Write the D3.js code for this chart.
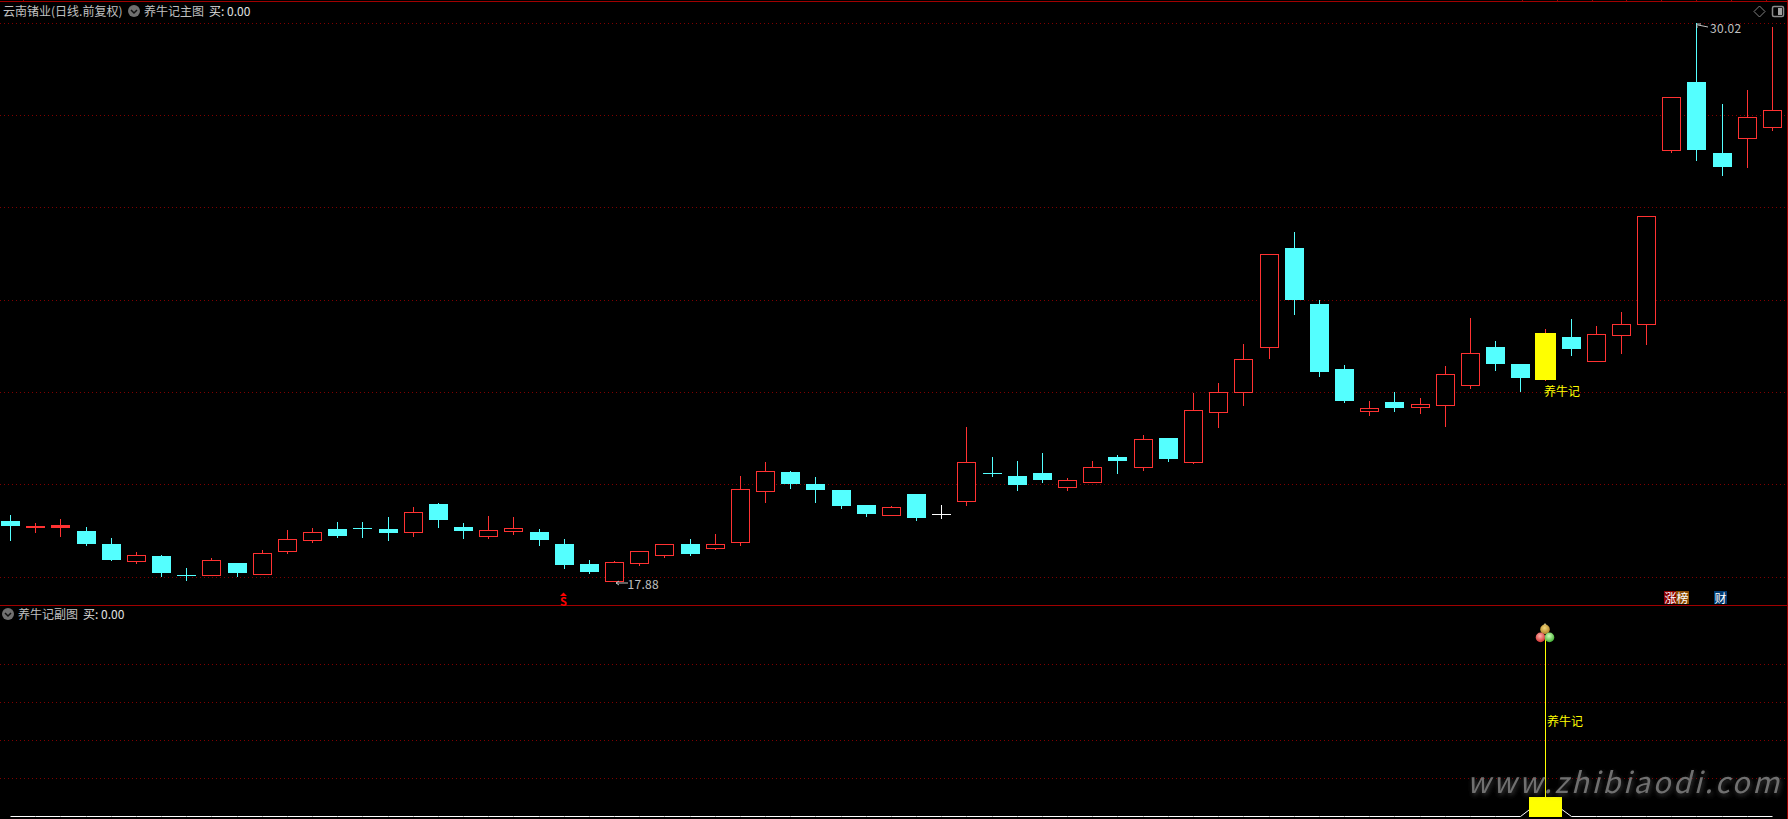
<!DOCTYPE html>
<html><head><meta charset="utf-8">
<script src="https://cdnjs.cloudflare.com/ajax/libs/d3/7.8.5/d3.min.js"></script>
<style>
html,body{margin:0;padding:0;background:#000;overflow:hidden}
svg{display:block}
text{font-family:"Noto Sans CJK SC","Liberation Sans",sans-serif}
</style></head><body><svg id="c" width="1788" height="819"></svg>
<script>
const stockTitle = "云南锗业(日线.前复权)";
const mainIndicator = "养牛记主图";
const subIndicator = "养牛记副图";
const buyLabel = "买: 0.00";
const signalLabel = "养牛记";
const watermark = "www.zhibiaodi.com";
const opens  = [19.18,19.04,19.06,18.96,18.68,18.30,18.42,18.01,18.01,18.27,18.03,18.53,18.77,19.01,19.03,19.01,18.93,19.55,19.05,18.86,18.97,18.94,18.68,18.24,17.88,18.27,18.45,18.68,18.60,18.73,19.84,20.25,19.99,19.86,19.53,19.32,19.77,19.33,19.62,20.23,20.16,20.23,19.93,20.02,20.58,20.36,20.99,20.47,21.56,21.98,22.96,25.13,23.91,22.49,21.58,21.77,21.67,21.71,22.15,22.97,22.60,22.25,23.19,22.67,23.24,23.48,27.25,28.74,27.20,27.53,27.77];
const closes = [19.08,19.07,19.09,18.68,18.33,18.44,18.05,17.99,18.33,18.05,18.48,18.78,18.94,18.85,19.01,18.92,19.37,19.20,18.96,18.98,19.02,18.77,18.22,18.07,18.28,18.52,18.67,18.46,18.67,19.87,20.26,19.99,19.86,19.51,19.33,19.48,19.25,19.33,20.46,20.21,19.97,20.07,20.07,20.35,20.49,20.96,20.53,21.59,21.98,22.70,24.99,23.99,22.43,21.79,21.64,21.64,21.72,22.38,22.85,22.60,22.30,23.28,22.93,23.25,23.46,25.82,28.41,27.26,26.89,27.99,28.13];
const highs  = [19.31,19.14,19.22,19.05,18.81,18.51,18.44,18.16,18.38,18.27,18.55,18.99,19.03,19.16,19.16,19.27,19.49,19.57,19.14,19.29,19.27,19.01,18.79,18.33,18.31,18.53,18.68,18.79,18.90,20.16,20.47,20.27,20.14,19.86,19.53,19.51,19.77,19.53,21.23,20.58,20.49,20.66,20.12,20.49,20.62,21.05,20.99,21.97,22.19,23.04,24.99,25.47,23.99,22.58,21.79,21.99,21.86,22.56,23.60,23.10,22.60,23.36,23.58,23.43,23.73,25.82,28.41,30.02,28.26,28.57,29.94];
const lows   = [18.77,18.93,18.86,18.66,18.33,18.27,17.98,17.90,18.01,17.98,18.03,18.49,18.73,18.83,18.83,18.77,18.86,19.05,18.81,18.81,18.90,18.66,18.16,18.05,17.88,18.22,18.40,18.44,18.57,18.66,19.60,19.90,19.60,19.46,19.29,19.32,19.20,19.25,19.53,20.16,19.86,20.03,19.86,20.02,20.23,20.29,20.49,20.44,21.23,21.71,22.73,23.69,22.34,21.77,21.49,21.58,21.53,21.25,22.08,22.47,22.01,22.25,22.80,22.67,22.84,23.04,27.22,27.04,26.72,26.89,27.70];
const gridPrices = [30.03,28.02,26.01,23.99,21.99,19.98,17.96];
const subGridValues = [2,4,6,8];
const signalIndex = 61;
const sellIndex = 22;
const signalBar = 1;
const signalStick = 9.35;
const maxIndex = 67, maxLabel = "30.02";
const minIndex = 24, minLabel = "17.88";
const topTicks = [23,1522,1557,1592,1626,1661,1696,1731,1766];
const badges = [{t:"涨",x0:1664,bg:"#8a0000"},{t:"榜",x0:1676,bg:"#8a4a00"},{t:"财",x0:1714,bg:"#003a70"}];

const RED="#ff3232", CYAN="#54ffff", YEL="#ffff00", GREY="#c0c0c0", LINE="#a00000", DOT="#800000";
const W=1788,H=819;
const svg=d3.select("#c");
const x=d3.scaleLinear().domain([0,70]).range([10,1771.9]);
const y=d3.scaleLinear().domain([30.02,17.88]).range([23.3,580.7]);
const ySub=d3.scaleLinear().domain([0,8]).range([816.5,663.7]);
const px=i=>Math.round(x(i));
const py=p=>Math.round(y(p));

svg.append("rect").attr("width",W).attr("height",H).attr("fill","#000");

// grid
const grid=svg.append("g").attr("shape-rendering","crispEdges");
grid.selectAll("line.m").data(gridPrices).join("line").attr("class","m")
  .attr("x1",0).attr("x2",W-2).attr("y1",d=>py(d)+.5).attr("y2",d=>py(d)+.5)
  .attr("stroke",DOT).attr("stroke-dasharray","1 3");
grid.selectAll("line.s").data(subGridValues).join("line").attr("class","s")
  .attr("x1",0).attr("x2",W-2).attr("y1",d=>Math.round(ySub(d))+.5).attr("y2",d=>Math.round(ySub(d))+.5)
  .attr("stroke",DOT).attr("stroke-dasharray","1 3");

// frame
const frame=svg.append("g").attr("shape-rendering","crispEdges").attr("stroke",LINE);
frame.append("line").attr("x1",0).attr("x2",W).attr("y1",1.5).attr("y2",1.5);
frame.append("line").attr("x1",0).attr("x2",W).attr("y1",605.5).attr("y2",605.5);
frame.append("line").attr("x1",W-.5).attr("x2",W-.5).attr("y1",0).attr("y2",H);
frame.selectAll("line.t").data(topTicks).join("line").attr("class","t")
  .attr("x1",d=>d+.5).attr("x2",d=>d+.5).attr("y1",0).attr("y2",1);

// candles
const candles=d3.range(opens.length).map(i=>({i,o:opens[i],c:closes[i],h:highs[i],l:lows[i]}));
const colorOf=d=>d.i===signalIndex?YEL:(d.o===d.c?"#ffffff":(d.c>d.o?RED:CYAN));
const g=svg.append("g").attr("shape-rendering","crispEdges");
const cg=g.selectAll("g").data(candles).join("g");
cg.append("line").attr("x1",d=>px(d.i)+.5).attr("x2",d=>px(d.i)+.5)
  .attr("y1",d=>py(d.h)).attr("y2",d=>py(d.l)+1)
  .attr("stroke",d=>d.i===signalIndex?RED:colorOf(d));
cg.each(function(d){
  const s=d3.select(this),t=py(Math.max(d.o,d.c)),b=py(Math.min(d.o,d.c)),c=px(d.i),col=colorOf(d);
  if(d.i===signalIndex){
    s.append("rect").attr("x",c-10).attr("y",t).attr("width",21).attr("height",b-t).attr("fill",YEL);
  } else if(d.o===d.c){
    s.append("rect").attr("x",c-9).attr("y",t).attr("width",19).attr("height",1).attr("fill",col);
  } else if(d.c>d.o){
    if(b-t<=2) s.append("rect").attr("x",c-9).attr("y",t).attr("width",19).attr("height",Math.max(b-t,1)+1).attr("fill",col);
    else s.append("rect").attr("x",c-8.5).attr("y",t+.5).attr("width",18).attr("height",b-t).attr("fill","#000").attr("stroke",col);
  } else {
    s.append("rect").attr("x",c-9).attr("y",t).attr("width",19).attr("height",Math.max(b-t,1)).attr("fill",col);
  }
});

// sub panel line
const subVals=candles.map(d=>d.i===signalIndex?signalBar:0);
svg.append("path").attr("d",d3.line().x((d,i)=>px(i)+.5).y(d=>ySub(d))(subVals))
  .attr("fill","none").attr("stroke","#fff").attr("stroke-width",1);
const sc=px(signalIndex);
const subG=svg.append("g").attr("shape-rendering","crispEdges");
subG.append("rect").attr("x",sc-16.5).attr("width",33).attr("y",ySub(signalBar)).attr("height",ySub(0)-ySub(signalBar)).attr("fill",YEL);
subG.append("line").attr("x1",sc+.5).attr("x2",sc+.5).attr("y1",ySub(signalStick)).attr("y2",ySub(signalBar)).attr("stroke",YEL);

// balls
const defs=svg.append("defs");
[["bR","#ffb0a8","#d02828"],["bG","#d0ffb8","#35a828"],["bO","#f4d878","#a87820"]].forEach(([id,a,b])=>{
  const lg=defs.append("radialGradient").attr("id",id).attr("cx","45%").attr("cy","35%").attr("r","70%");
  lg.append("stop").attr("offset","0").attr("stop-color",a);
  lg.append("stop").attr("offset","1").attr("stop-color",b);
});
const bx=sc, by=ySub(signalStick);
svg.append("path").attr("d",`M${bx-2} ${by-12}L${bx} ${by-15}L${bx+2} ${by-12}Z`).attr("fill","#d0d0a8");
svg.append("circle").attr("cx",bx).attr("cy",by-8.5).attr("r",4.8).attr("fill","url(#bO)");
svg.append("circle").attr("cx",bx-4.5).attr("cy",by-.5).attr("r",4.8).attr("fill","url(#bR)");
svg.append("circle").attr("cx",bx+4.5).attr("cy",by-.5).attr("r",4.8).attr("fill","url(#bG)");

// text helpers
const T=(s,tx,ty,col,size,anchor)=>svg.append("text").text(s).attr("x",tx).attr("y",ty).attr("fill",col)
  .attr("font-size",size||12).attr("text-anchor",anchor||"start").attr("dominant-baseline","central");
function chevron(cx,cy){
  svg.append("circle").attr("cx",cx).attr("cy",cy).attr("r",6).attr("fill","#707070");
  svg.append("path").attr("d",`M${cx-3} ${cy-1}L${cx} ${cy+2}L${cx+3} ${cy-1}`).attr("fill","none").attr("stroke","#111").attr("stroke-width",1.5);
}
T(stockTitle,3,10,GREY,12);
chevron(134,11);
T(mainIndicator,144,10,GREY,12);
T(buyLabel,209,10,"#e0e0e0",12);
chevron(8,614);
T(subIndicator,18,613,GREY,12);
T(buyLabel,83,613,"#e0e0e0",12);

// extreme labels
const numFont="Liberation Sans";
const xMax=px(maxIndex), yMax=py(highs[maxIndex]);
svg.append("path").attr("d",`M${xMax+1} ${yMax+1}h4M${xMax+1} ${yMax+1}v4M${xMax+2} ${yMax+2}L${xMax+12} ${yMax+4}`).attr("fill","none").attr("stroke",GREY);
T(maxLabel,xMax+14,yMax+4,GREY,12).attr("font-family",numFont).attr("letter-spacing",0.3);
const xMin=px(minIndex), yMin=py(lows[minIndex]);
svg.append("path").attr("d",`M${xMin+2} ${yMin+2}h12M${xMin+2} ${yMin+2}l3 -2M${xMin+2} ${yMin+2}l3 2`).attr("fill","none").attr("stroke",GREY);
T(minLabel,xMin+13.5,yMin+2,GREY,12).attr("font-family",numFont).attr("letter-spacing",0.3);

// signal labels
T(signalLabel,sc-1,390,YEL,12);
T(signalLabel,sc+2,720.5,YEL,12);

// sell marker
const sx=px(sellIndex)-1;
svg.append("path").attr("d",`M${sx-3} 596L${sx+.5} 592.5L${sx+4} 596Z`).attr("fill","#ff0000");
T("S",sx+.5,600.5,"#ff0000",11,"middle").attr("font-weight","700");

// badges
badges.forEach(b=>{
  svg.append("rect").attr("x",b.x0).attr("y",591).attr("width",13).attr("height",13).attr("fill",b.bg);
  T(b.t,b.x0+6.5,597.5,"#fff",12,"middle");
});

// top-right icons
svg.append("path").attr("d","M1759.5 6L1765 11.5L1759.5 17L1754 11.5Z").attr("fill","none").attr("stroke","#808080");
svg.append("rect").attr("x",1772.5).attr("y",6.5).attr("width",11).attr("height",10).attr("rx",1.5).attr("fill","none").attr("stroke","#8a8a8a").attr("stroke-width",1.5);
svg.append("rect").attr("x",1778).attr("y",8).attr("width",4).attr("height",7).attr("fill","#a0a0a0");

// watermark
const blur=defs.append("filter").attr("id","wm").attr("x","-5%").attr("y","-30%").attr("width","110%").attr("height","160%");
blur.append("feDropShadow").attr("dx",1).attr("dy",2).attr("stdDeviation",2.5).attr("flood-color","#505050").attr("flood-opacity",.8);
svg.append("text").text(watermark).attr("x",1467).attr("y",793).attr("fill","#707070")
  .attr("font-size",29).attr("font-style","italic").attr("font-family","DejaVu Sans")
  .attr("textLength",312).attr("lengthAdjust","spacing").attr("filter","url(#wm)");
</script></body></html>
